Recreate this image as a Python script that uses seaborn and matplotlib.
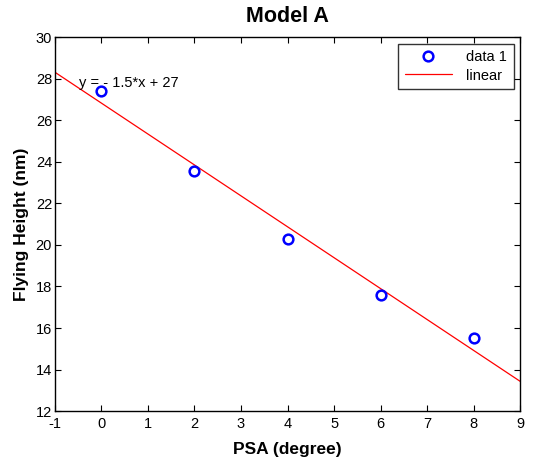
import numpy as np
import pandas as pd
import matplotlib
matplotlib.use("Agg")
import matplotlib.pyplot as plt
import seaborn as sns

# values
psa = [0, 2, 4, 6, 8]
height = [27.4, 23.55, 20.3, 17.6, 15.5]
fit_label = "y = - 1.5*x + 27"

df = pd.DataFrame({"psa": psa, "height": height})

sns.set_style("ticks")
plt.rcParams["font.family"] = ["Liberation Sans", "DejaVu Sans"]
plt.rcParams["xtick.direction"] = "in"
plt.rcParams["ytick.direction"] = "in"
plt.rcParams["axes.unicode_minus"] = False
plt.rcParams["text.color"] = "black"
plt.rcParams["axes.labelcolor"] = "black"
plt.rcParams["xtick.color"] = "black"
plt.rcParams["ytick.color"] = "black"
plt.rcParams["axes.edgecolor"] = "black"

fig = plt.figure(figsize=(5.33, 4.63), dpi=100)
ax = fig.add_axes([0.103, 0.112, 0.873, 0.808])
ax.set_xlim(-1, 9)
ax.set_ylim(12, 30)

# fitted line across the whole axis
sns.regplot(data=df, x="psa", y="height", ax=ax, scatter=False, ci=None,
            truncate=False, color="red", line_kws={"lw": 0.9})
fit_line = ax.lines[-1]
ax.plot(df["psa"], df["height"], "o", mfc="none", mec="blue", mew=1.8, ms=7,
        zorder=3)
pts = ax.lines[-1]

ax.text(-0.48, 27.8, fit_label, fontsize=10.5, va="center", ha="left")

ax.set_xticks(range(-1, 10))
ax.set_yticks(range(12, 31, 2))
ax.tick_params(top=True, right=True, length=4, width=0.8, labelsize=10.5)
ax.tick_params(axis="x", pad=4)
ax.tick_params(axis="y", pad=2)
for s in ax.spines.values():
    s.set_linewidth(1.0)
    s.set_visible(True)

ax.set_title("Model A", fontsize=15.5, fontweight="bold", pad=11)
ax.set_xlabel("PSA (degree)", fontsize=12.5, fontweight="bold", labelpad=8)
ax.set_ylabel("Flying Height (nm)", fontsize=12.5, fontweight="bold", labelpad=5)

leg = ax.legend([pts, fit_line], ["data 1", "linear"], loc="upper right",
                fontsize=10.5, frameon=True, fancybox=False, edgecolor="black",
                borderaxespad=0.45, handlelength=3.2, borderpad=0.45,
                labelspacing=0.3, handletextpad=1.0)
leg.get_frame().set_linewidth(1.0)

fig.savefig("out.png", dpi=100)
